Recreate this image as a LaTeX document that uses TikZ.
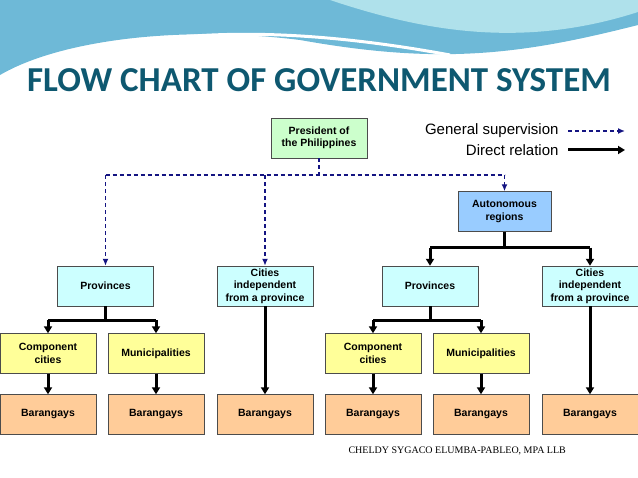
\documentclass[tikz,border=0pt]{standalone}
\usepackage{fontspec}
\setmainfont{Liberation Sans}
\newfontfamily\titlefont{Carlito}
\newfontfamily\footfont{Liberation Serif}
\usetikzlibrary{arrows.meta}
\definecolor{titleblue}{RGB}{14,88,112}
\definecolor{presgreen}{RGB}{204,255,204}
\definecolor{autoblue}{RGB}{153,204,255}
\definecolor{provcyan}{RGB}{204,255,255}
\definecolor{muniyellow}{RGB}{255,255,153}
\definecolor{brgyorange}{RGB}{255,204,153}
\definecolor{supblue}{RGB}{20,20,130}
\definecolor{wavedark}{RGB}{110,185,215}
\definecolor{wavelight}{RGB}{175,225,235}
\tikzset{
  unit/.style={draw=black!70, minimum width=96pt, minimum height=40pt, inner sep=1pt,
    align=center, font=\fontsize{10.5}{12.5}\selectfont\bfseries},
  supline/.style={draw=supblue, line width=1.4pt, dash pattern=on 4pt off 3pt},
  sup/.style={supline, -{Latex[length=7pt,width=6pt]}},
  rel/.style={draw=black, line width=3pt, -{Triangle[length=7pt,width=8pt]}},
  bus/.style={draw=black, line width=3pt},
}
\begin{document}
\begin{tikzpicture}[x=1pt, y=-1pt]
  \useasboundingbox (0,0) rectangle (638,478);
  % header
  \fill[wavedark] (0,0) -- (638,0) -- (638,25) .. controls (520,55) and (440,65) .. (300,40)
    .. controls (180,25) and (60,40) .. (0,75) -- cycle;
  \fill[wavelight] (0,0) -- (330,0) .. controls (420,30) and (520,50) .. (638,12) -- (638,0) -- cycle;
  \draw[white, line width=3pt] (10,80) .. controls (120,30) and (260,20) .. (450,55);
  \node[font=\titlefont\fontsize{35}{40}\selectfont\bfseries, text=titleblue] (title) at (319,80) {FLOW CHART OF GOVERNMENT SYSTEM};

  % legend
  \node[anchor=east, font=\fontsize{15}{17}\selectfont] (lgsup) at (562,131) {General supervision};
  \node[anchor=east, font=\fontsize{15}{17}\selectfont] (lgrel) at (562,150) {Direct relation};
  \coordinate (lgsupend) at (625,131);
  \coordinate (lgrelend) at (625,150);
  \draw[sup] (lgsup.east) ++(6,0) -- (lgsupend);
  \draw[rel] (lgrel.east) ++(6,0) -- (lgrelend);

  % nodes
  \node[unit, fill=presgreen] (pres) at (319,138) {President of\\the Philippines};
  \node[unit, fill=autoblue, minimum width=93pt] (auto) at (504.5,211.5) {Autonomous\\regions};

  \node[unit, fill=provcyan] (provL) at (105.5,286) {Provinces};
  \node[unit, fill=provcyan] (cityL) at (265,286) {Cities\\independent\\from a province};
  \node[unit, fill=provcyan] (provR) at (430,286) {Provinces};
  \node[unit, fill=provcyan] (cityR) at (590,286) {Cities\\independent\\from a province};

  \node[unit, fill=muniyellow] (compL) at (48,353.5) {Component\\cities};
  \node[unit, fill=muniyellow] (muniL) at (156,353.5) {Municipalities};
  \node[unit, fill=muniyellow] (compR) at (373,353.5) {Component\\cities};
  \node[unit, fill=muniyellow] (muniR) at (481,353.5) {Municipalities};

  \foreach \name/\x in {b1/48, b2/156, b3/265, b4/373, b5/481, b6/590}
    \node[unit, fill=brgyorange] (\name) at (\x,414.5) {Barangays};

  % general supervision
  \draw[supline] (pres.south) -- ++(0,17) coordinate (supbus);
  \draw[supline] (provL.north |- supbus) -- (auto.north |- supbus);
  \draw[sup] (provL.north |- supbus) -- (provL.north);
  \draw[sup] (cityL.north |- supbus) -- (cityL.north);
  \draw[sup] (auto.north |- supbus) -- (auto.north);

  % direct relation
  \draw[bus] (auto.south) -- ++(0,16) coordinate (autobus);
  \draw[bus] (provR.north |- autobus) -- (cityR.north |- autobus);
  \draw[rel] (provR.north |- autobus) -- (provR.north);
  \draw[rel] (cityR.north |- autobus) -- (cityR.north);

  \foreach \prov/\comp/\muni in {provL/compL/muniL, provR/compR/muniR} {
    \draw[bus] (\prov.south) -- ++(0,14) coordinate (pbus);
    \draw[bus] (\comp.north |- pbus) -- (\muni.north |- pbus);
    \draw[rel] (\comp.north |- pbus) -- (\comp.north);
    \draw[rel] (\muni.north |- pbus) -- (\muni.north);
  }
  \draw[rel] (compL) -- (b1);
  \draw[rel] (muniL) -- (b2);
  \draw[rel] (cityL) -- (b3);
  \draw[rel] (compR) -- (b4);
  \draw[rel] (muniR) -- (b5);
  \draw[rel] (cityR) -- (b6);

  \node[font=\footfont\fontsize{10}{12}\selectfont, anchor=west] (credit) at (345,451) {CHELDY SYGACO ELUMBA-PABLEO, MPA LLB};
\end{tikzpicture}
\end{document}
